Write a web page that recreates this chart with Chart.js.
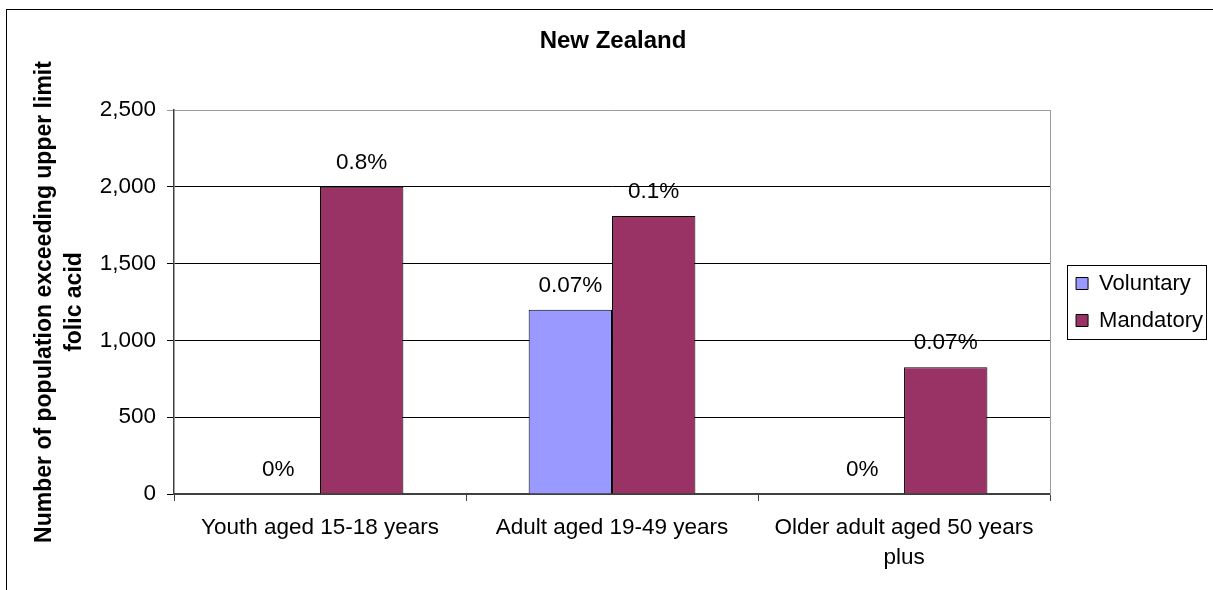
<!DOCTYPE html>
<html>
<head>
<meta charset="utf-8">
<script src="https://cdn.jsdelivr.net/npm/chart.js@4.4.1/dist/chart.umd.min.js"></script>
<style>
  html, body { margin: 0; padding: 0; background: #fff; }
  #wrap { position: relative; width: 1213px; height: 590px; }
</style>
</head>
<body>
<div id="wrap"><canvas id="chart" width="1213" height="590"></canvas></div>
<script>
// data
const categories = ['Youth aged 15-18 years', 'Adult aged 19-49 years', ['Older adult aged 50 years', 'plus']];
const voluntary = [0, 1200, 0];
const mandatory = [2000, 1810, 825];
const voluntaryPct = ['0%', '0.07%', '0%'];
const mandatoryPct = ['0.8%', '0.1%', '0.07%'];
const yMin = 0, yMax = 2500, yStep = 500;

const FONT = "'Liberation Sans', Arial, sans-serif";
const TXT = 22.5;
Chart.defaults.font.family = FONT;
Chart.defaults.color = '#000';

// white page + outer frame
const frame = {
  id: 'frame',
  beforeDraw(chart) {
    const c = chart.ctx;
    c.save();
    c.fillStyle = '#fff';
    c.fillRect(0, 0, chart.width, chart.height);
    c.strokeStyle = '#000';
    c.lineWidth = 1;
    c.strokeRect(6.5, 9.5, 1400, 800);
    c.restore();
  }
};

// percentage text above each bar
const pctLabels = {
  id: 'pctLabels',
  afterDatasetsDraw(chart) {
    const c = chart.ctx;
    const sets = [voluntaryPct, mandatoryPct];
    c.save();
    c.font = TXT + 'px ' + FONT;
    c.fillStyle = '#000';
    c.textAlign = 'center';
    c.textBaseline = 'middle';
    chart.data.datasets.forEach((ds, i) => {
      chart.getDatasetMeta(i).data.forEach((bar, j) => {
        c.fillText(sets[i][j], bar.x, bar.y - 24);
      });
    });
    c.restore();
  }
};

// box around the legend
const legendBox = {
  id: 'legendBox',
  afterDraw(chart) {
    const hb = chart.legend.legendHitBoxes;
    if (!hb || !hb.length) return;
    const first = hb[0], last = hb[hb.length - 1];
    const l = Math.round(first.left) - 9;
    const r = Math.max(...hb.map(h => h.left + h.width)) + 3;
    const t = Math.round(first.top + first.height / 2) - 19;
    const b = Math.round(last.top + last.height / 2) + 18;
    const c = chart.ctx;
    c.save();
    c.strokeStyle = '#000';
    c.lineWidth = 1;
    c.strokeRect(l + 0.5, t + 0.5, Math.round(r - l), b - t);
    c.restore();
  }
};

new Chart(document.getElementById('chart'), {
  type: 'bar',
  data: {
    labels: categories,
    datasets: [
      { label: 'Voluntary', data: voluntary, backgroundColor: '#9999FF', borderColor: '#000', borderWidth: 1 },
      { label: 'Mandatory', data: mandatory, backgroundColor: '#993366', borderColor: '#000', borderWidth: 1 }
    ]
  },
  options: {
    responsive: false,
    animation: false,
    layout: { padding: { left: 13, right: 0, top: 0, bottom: 0 } },
    datasets: { bar: { categoryPercentage: 0.571, barPercentage: 1 } },
    scales: {
      x: {
        afterFit: (s) => { s.height = 96; },
        grid: { drawOnChartArea: false, tickLength: 7, color: '#404040' },
        border: { color: '#404040', width: 2 },
        ticks: { font: { size: TXT, lineHeight: 1.33 }, padding: 12, maxRotation: 0, autoSkip: false }
      },
      y: {
        min: yMin, max: yMax,
        afterFit: (s) => { s.width = 161; },
        ticks: { stepSize: yStep, font: { size: TXT }, padding: 11 },
        grid: {
          tickLength: 7,
          color: (ctx) => ctx.tick && ctx.tick.value === yMax ? '#9a9a9a' : '#000'
        },
        border: { color: '#404040', width: 1.5 },
        title: {
          display: true,
          text: ['Number of population exceeding upper limit', 'folic acid'],
          font: { size: 23, weight: 'bold', lineHeight: 1.3 },
          padding: { top: 17, bottom: 0 }
        }
      },
      y2: {
        position: 'right',
        min: yMin, max: yMax,
        afterFit: (s) => { s.width = 11; },
        ticks: { display: false },
        grid: { drawOnChartArea: false, drawTicks: false },
        border: { color: '#9a9a9a', width: 1 }
      }
    },
    plugins: {
      title: {
        display: true,
        text: 'New Zealand',
        font: { size: 24, weight: 'bold', lineHeight: 1.2 },
        padding: { top: 26.6, bottom: 54.6 }
      },
      legend: {
        position: 'right',
        fullSize: false,
        labels: { boxWidth: 12, boxHeight: 12, padding: 15, font: { size: 22 } }
      },
      tooltip: { enabled: false }
    }
  },
  plugins: [frame, pctLabels, legendBox]
});
</script>
</body>
</html>
